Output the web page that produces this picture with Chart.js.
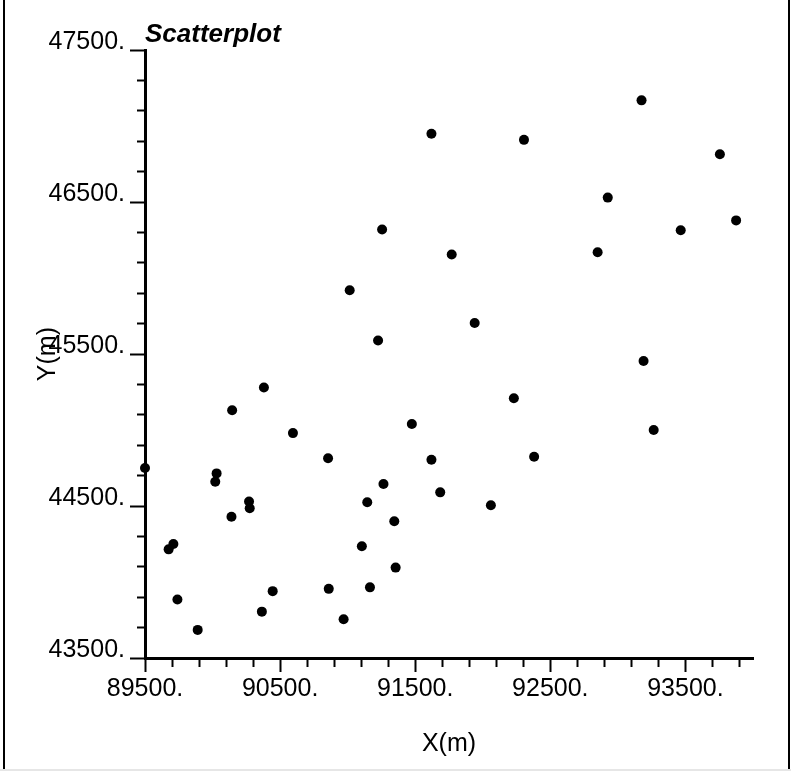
<!DOCTYPE html>
<html>
<head>
<meta charset="utf-8">
<script src="https://cdn.jsdelivr.net/npm/chart.js@4.4.1/dist/chart.umd.min.js"></script>
<style>
  html, body { margin: 0; padding: 0; background: #fff; }
  #wrap { position: relative; width: 791px; height: 771px; overflow: hidden; background: #fff; }
  #wrap canvas { position: absolute; left: 0; top: 0; }
  #frame { position: absolute; left: 3px; top: 0; width: 787px; height: 769px;
           border-left: 2px solid #000; border-right: 2px solid #000; box-sizing: border-box; pointer-events: none; }
  #base { position: absolute; left: 0; top: 769px; width: 791px; height: 2px; background: #e6e6e6; }
</style>
</head>
<body>
<div id="wrap">
  <canvas id="chart" width="791" height="771"></canvas>
  <div id="frame"></div>
  <div id="base"></div>
</div>
<script>
// Sample locations (metres)
const xValues = [93175, 91620, 92305, 93755, 92925, 93875, 91255, 93465, 92850, 91770,
                 91015, 91940, 91225, 93190, 90380, 92230, 90145, 91475, 93265, 90595,
                 91620, 92380, 90855, 89500, 90030, 90020, 91265, 91685, 91145, 92060,
                 90270, 90275, 90140, 91345, 89710, 89675, 91105, 91355, 91165, 90860,
                 90445, 89740, 90365, 90970, 89890];
const yValues = [47170, 46950, 46910, 46815, 46530, 46380, 46320, 46315, 46170, 46155,
                 45920, 45705, 45590, 45455, 45280, 45210, 45130, 45040, 45000, 44980,
                 44805, 44825, 44815, 44750, 44715, 44660, 44645, 44590, 44525, 44505,
                 44530, 44485, 44430, 44400, 44250, 44215, 44235, 44095, 43965, 43955,
                 43940, 43885, 43805, 43755, 43685];

// Tick marks every 200 m, labelled every 1000 m
const xTicks = [89500, 89700, 89900, 90100, 90300, 90500, 90700, 90900, 91100, 91300,
                91500, 91700, 91900, 92100, 92300, 92500, 92700, 92900, 93100, 93300,
                93500, 93700, 93900];
const xMajor = [89500, 90500, 91500, 92500, 93500];
const xLabels = ['89500.', '90500.', '91500.', '92500.', '93500.'];

const yTicks = [43500, 43700, 43900, 44100, 44300, 44500, 44700, 44900, 45100, 45300,
                45500, 45700, 45900, 46100, 46300, 46500, 46700, 46900, 47100, 47300,
                47500];
const yMajor = [43500, 44500, 45500, 46500, 47500];
const yLabels = ['43500.', '44500.', '45500.', '46500.', '47500.'];

const FONT = "'Liberation Sans', Arial, Helvetica, sans-serif";

const points = xValues.map((x, i) => ({ x: x, y: yValues[i] }));

function labelFor(majors, labels) {
  return (v) => {
    const i = majors.indexOf(v);
    return i >= 0 ? labels[i] : '';
  };
}

new Chart(document.getElementById('chart'), {
  type: 'scatter',
  data: {
    datasets: [{
      data: points,
      pointRadius: 5,
      pointHoverRadius: 5,
      pointBackgroundColor: '#000',
      pointBorderWidth: 0,
      clip: false
    }]
  },
  options: {
    responsive: false,
    devicePixelRatio: 1,
    animation: false,
    events: [],
    layout: { padding: { top: 17, left: 0, right: 38, bottom: 0 } },
    plugins: {
      legend: { display: false },
      tooltip: { enabled: false },
      title: {
        display: true,
        text: 'Scatterplot',
        align: 'start',
        fullSize: false,
        color: '#000',
        font: { family: FONT, size: 26, weight: 'bold', style: 'italic', lineHeight: 1.2 },
        padding: { top: 2, bottom: 0 }
      }
    },
    scales: {
      x: {
        type: 'linear',
        min: 89500,
        max: 94000,
        afterBuildTicks: (s) => { s.ticks = xTicks.map(v => ({ value: v })); },
        afterFit: (s) => { s.height = 113; },
        border: { display: true, color: '#000', width: 3 },
        grid: {
          drawOnChartArea: false,
          drawTicks: true,
          tickLength: 14,
          tickWidth: 2,
          tickColor: '#000',
          tickBorderDash: (ctx) => (xMajor.includes(ctx.tick && ctx.tick.value) ? [] : [7, 100])
        },
        ticks: {
          autoSkip: false,
          maxRotation: 0,
          minRotation: 0,
          padding: 2,
          color: '#000',
          font: { family: FONT, size: 25 },
          callback: labelFor(xMajor, xLabels)
        },
        title: {
          display: true,
          text: 'X(m)',
          color: '#000',
          font: { family: FONT, size: 25 },
          padding: { top: 0, bottom: 12 }
        }
      },
      y: {
        type: 'linear',
        min: 43500,
        max: 47500,
        afterBuildTicks: (s) => { s.ticks = yTicks.map(v => ({ value: v })); },
        afterFit: (s) => { s.width = 145; },
        border: { display: true, color: '#000', width: 3 },
        grid: {
          drawOnChartArea: false,
          drawTicks: true,
          tickLength: 15,
          tickWidth: 2,
          tickColor: '#000',
          tickBorderDash: (ctx) => (yMajor.includes(ctx.tick && ctx.tick.value) ? [] : [0, 7, 20, 100])
        },
        ticks: {
          autoSkip: false,
          padding: 5,
          labelOffset: -8,
          color: '#000',
          font: { family: FONT, size: 25 },
          callback: labelFor(yMajor, yLabels)
        },
        title: {
          display: true,
          text: 'Y(m)',
          color: '#000',
          font: { family: FONT, size: 25 },
          padding: { top: 33, bottom: 0 }
        }
      }
    }
  }
});
</script>
</body>
</html>
